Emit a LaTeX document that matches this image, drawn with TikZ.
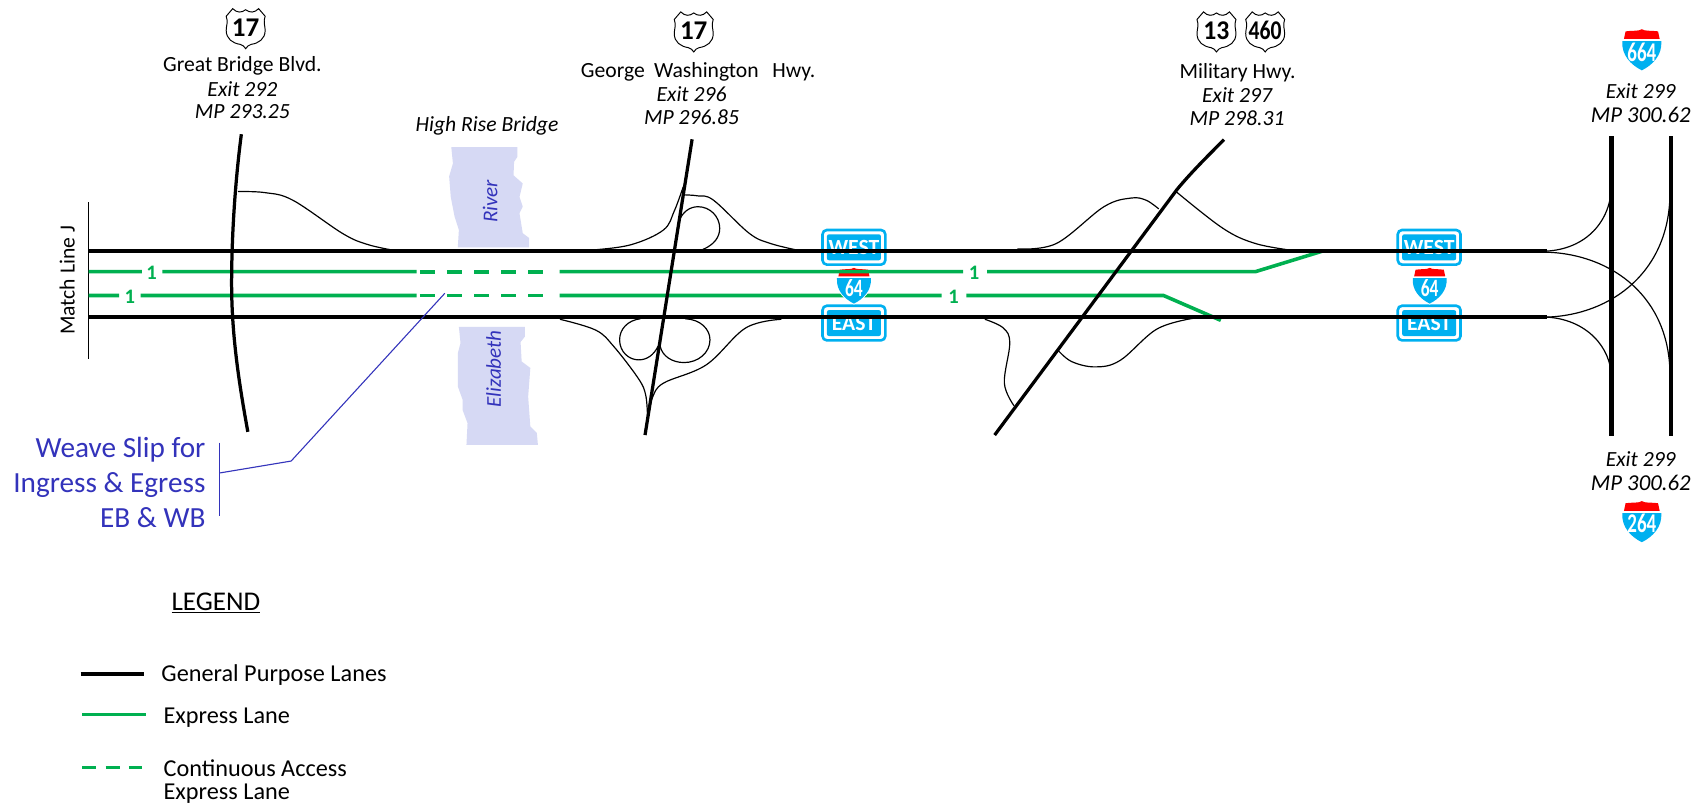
\documentclass[tikz,border=0pt]{standalone}
\usepackage{fontspec}
\setmainfont{Carlito}
\definecolor{expr}{HTML}{00B050}
\definecolor{signblue}{HTML}{00B0F0}
\definecolor{river}{HTML}{D6D9F4}
\definecolor{noteblue}{HTML}{3333BB}
\tikzset{
  x=1pt,y=-1pt,
  gplane/.style={line width=4pt,black},
  xroad/.style={line width=3pt,black},
  ramp/.style={line width=1.1pt,black},
  xlane/.style={line width=3.3pt,expr},
  xdash/.style={line width=3.5pt,expr,dash pattern=on 14pt off 11pt},
  lab/.style={font=\fontsize{20}{22}\selectfont,inner sep=0pt,align=center,text=black},
  ilab/.style={font=\fontsize{20}{22}\selectfont\itshape,inner sep=0pt,align=center,text=black},
  onelab/.style={font=\fontsize{19}{20}\selectfont\bfseries,text=expr,inner sep=0pt},
  rivertxt/.style={font=\fontsize{19.5}{22}\selectfont\itshape,text=noteblue,rotate=90,inner sep=0pt},
  leg/.style={font=\fontsize{22.4}{24}\selectfont,inner sep=0pt,anchor=west,align=left,text=black},
  note/.style={line width=1pt,noteblue},
  dirsign/.style={draw=signblue,fill=white,line width=2.4pt,rounded corners=4pt},
  dirin/.style={fill=signblue,rounded corners=2pt},
  dirtxt/.style={font=\fontsize{20}{20}\selectfont\bfseries,text=white,inner sep=0pt},
}
% US route shield: centre, node name, text, x-compression
\newcommand{\usshield}[4]{%
  \begin{scope}[shift={(#1)}]
    \draw[fill=white,line width=.9pt] (-12,-18) .. controls (-8,-14) and (-4,-14) .. (0,-17)
      .. controls (4,-14) and (8,-14) .. (12,-18) -- (18,-11)
      .. controls (16,-6) and (18,-2) .. (18,2) .. controls (18,10) and (12,14) .. (5,15)
      .. controls (3,15.5) and (1,17) .. (0,19) .. controls (-1,17) and (-3,15.5) .. (-5,15)
      .. controls (-12,14) and (-18,10) .. (-18,2) .. controls (-18,-2) and (-16,-6) .. (-18,-11) -- cycle;
    \node[inner sep=0pt,font=\fontsize{25}{26}\selectfont\bfseries,xscale=#4] (#2) at (0,-0.5) {#3};
  \end{scope}}
% Interstate shield: centre, node name, text, scale, font size
\newcommand{\ishield}[5]{%
  \begin{scope}[shift={(#1)},scale=#4]
    \fill[white] (-19,-8) -- (19,-8) .. controls (20,6) and (10,15) .. (0,20) .. controls (-10,15) and (-20,6) .. (-19,-8) -- cycle;
    \fill[red] (-16.5,-10) -- (-15,-17) .. controls (-8,-18) and (-3,-17) .. (0,-19)
       .. controls (3,-17) and (8,-18) .. (15,-17) -- (16.5,-10) -- cycle;
    \fill[signblue] (-18,-8) -- (18,-8) .. controls (19,5) and (10,14) .. (0,19)
       .. controls (-10,14) and (-19,5) .. (-18,-8) -- cycle;
    \node[inner sep=0pt,font=\fontsize{#5}{22}\selectfont\bfseries,text=white,xscale=.7] (#2) at (0,2) {#3};
  \end{scope}}
% direction sign: x centre, y centre, node name, text
\newcommand{\dirsignat}[4]{%
  \draw[dirsign] (#1-29,#2-16) rectangle (#1+29,#2+16);
  \fill[dirin] (#1-25,#2-12) rectangle (#1+25,#2+12);
  \node[dirtxt] (#3) at (#1,#2) {#4};}
\begin{document}
\begin{tikzpicture}
\useasboundingbox (0,0) rectangle (1568,747.5);
\fill[white] (0,0) rectangle (1568,747.5);

% river
\fill[river] (417,136) -- (418.5,151) -- (415,163) -- (416.5,182) -- (420,200) -- (424,212.5) -- (423,228.5)
  -- (489,228.5) -- (489,220) -- (483,215.5) -- (480,197) -- (483,191) -- (480,182) -- (483,169.5)
  -- (474.5,162) -- (475,149.5) -- (478,145) -- (478,136) -- cycle;
\fill[river] (424,302) -- (425.5,317) -- (423,326.5) -- (423,357) -- (427.5,369.5) -- (427.5,379) -- (432,391) -- (431,411)
  -- (497,411) -- (496,400) -- (490,394) -- (488,366.5) -- (490,340) -- (482,334) -- (481,316) -- (485,311) -- (485,302) -- cycle;
\node[rivertxt] (rivername) at (453,186) {River};
\node[rivertxt] (elizname) at (456,341) {Elizabeth};

% direction signs
\dirsignat{789}{228.5}{w1}{WEST}
\dirsignat{789}{298.5}{e1}{EAST}
\dirsignat{1320.5}{228.5}{w2}{WEST}
\dirsignat{1320.5}{298.5}{e2}{EAST}

% match line
\draw[line width=1.1pt] (82,187) -- (82,332);
\node[lab,rotate=90] (match) at (62,259) {Match Line J};

% express lanes
\draw[xlane] (82,273) -- (110,273) (130,273) -- (385,273) (517,273) -- (870,273) (893,273) -- (1075,273) -- (1128,296);
\draw[xdash] (388,273) -- (505,273);
\node[onelab] (n3) at (120,274) {1};
\node[onelab] (n4) at (881,274) {1};
\ishield{789,264}{i64a}{64}{.87}{23}
\ishield{1321,264}{i64b}{64}{.87}{23}
\draw[xlane] (82,251) -- (131,251) (150,251) -- (385,251) (517,251) -- (890,251) (912,251) -- (1160,251) -- (1222,232);
\draw[xdash] (388,251) -- (505,251);
\node[onelab] (n1) at (140,252) {1};
\node[onelab] (n2) at (900,252) {1};

% ramps
\draw[ramp] plot[smooth,tension=.6] coordinates {(220,177) (245,178) (270.6,185) (317,216) (340,226) (365,231.5)};
\draw[ramp] plot[smooth,tension=.6] coordinates {(527,232) (548,231) (583.4,226) (613,212.5) (623,195) (631.3,172.5)};
\draw[ramp] plot[smooth,tension=.6] coordinates {(631,180) (645,181) (659.3,185) (692.3,215.6) (712,225) (738.5,231.5)};
\draw[ramp] (649.4,230.5) .. controls (660,226) and (665,219) .. (665,211) .. controls (665,200) and (656,191) .. (645,191) .. controls (637,191) and (631,196) .. (628,203);
\draw[ramp] plot[smooth,tension=.6] coordinates {(517.4,295) (550.4,305) (567,320) (590,350) (596.6,365) (598.3,385)};
\draw[ramp] (591.7,294.5) .. controls (580,296) and (572.5,304) .. (572.5,314) .. controls (572.5,325) and (581,332.5) .. (590,332.5) .. controls (598,332.5) and (604,328) .. (608,320);
\draw[ramp] (633,294.5) .. controls (647,295) and (656,304) .. (656,314) .. controls (656,326) and (645,335) .. (632,335) .. controls (621,335) and (612,329) .. (610,320);
\draw[ramp] plot[smooth,tension=.6] coordinates {(722,295) (689,303) (652.7,337) (613,354) (603,367) (600,379)};
\draw[ramp] plot[smooth,tension=.6] coordinates {(910,295) (927,303) (933,317) (928,354) (937,375)};
\draw[ramp] plot[smooth,tension=.6] coordinates {(977,323) (990,334) (1012,339) (1035,333) (1069,304) (1103,294)};
\draw[ramp] plot[smooth,tension=.6] coordinates {(940,230) (976,225) (1020,191) (1045,183) (1059,185) (1070.6,193)};
\draw[ramp] plot[smooth,tension=.6] coordinates {(1086.6,177) (1130,211) (1160,225) (1195,231.5)};
\draw[ramp] (1429,232) .. controls (1465,230) and (1489,205) .. (1489,170);
\draw[ramp] (1429,233) .. controls (1490,235) and (1543,275) .. (1543,346.5);
\draw[ramp] (1429,293) .. controls (1490,291) and (1543,250) .. (1543,178);
\draw[ramp] (1429,293) .. controls (1465,295) and (1489,320) .. (1489,350);

% crossing roads
\draw[xroad] (223,124) .. controls (217,170) and (214,220) .. (214,262) .. controls (214,310) and (221,355) .. (229,399);
\draw[xroad] (639.5,128.7) -- (596,402);
\draw[xroad] (919,402) -- (1087.6,175) .. controls (1100,160) and (1115,145) .. (1131,129);
\draw[gplane] (1489,126) -- (1489,403);
\draw[gplane] (1544,126) -- (1544,403);

% general purpose lanes
\draw[gplane] (82,232) -- (1429,232);
\draw[gplane] (82,293) -- (1429,293);

% shields
\usshield{227,26}{s17a}{17}{1}
\usshield{641,29}{s17b}{17}{1}
\usshield{1124,29}{s13}{13}{.95}
\usshield{1169,29}{s460}{460}{.8}
\ishield{1517,46}{i664}{664}{1}{25}
\ishield{1517,482}{i264}{264}{1}{25}

% labels
\node[lab] (gb) at (224,61) {Great Bridge Blvd.};
\node[ilab] (gb2) at (224,82.5) {Exit 292};
\node[ilab] (gb3) at (224,103.5) {MP 293.25};
\node[lab] (gw) at (645,66) {George\hspace{4pt} Washington\hspace{8pt} Hwy.};
\node[ilab] (gw2) at (639,87) {Exit 296};
\node[ilab] (gw3) at (639,108.5) {MP 296.85};
\node[lab] (mh) at (1143.5,67) {Military Hwy.};
\node[ilab] (mh2) at (1143,88) {Exit 297};
\node[ilab] (mh3) at (1143,109.5) {MP 298.31};
\node[ilab] (x1) at (1516,84.5) {Exit 299};
\node[ilab,font=\fontsize{21}{22}\selectfont\itshape] (x2) at (1516,106.5) {MP 300.62};
\node[ilab] (x3) at (1516,424.5) {Exit 299};
\node[ilab,font=\fontsize{21}{22}\selectfont\itshape] (x4) at (1516,446.5) {MP 300.62};
\node[ilab] (hr) at (450,116) {High Rise Bridge};

% weave note
\node[font=\fontsize{27}{32.5}\selectfont,text=noteblue,align=right,inner sep=0pt,anchor=east] (weave) at (190,445.5) {Weave Slip for\\Ingress \& Egress\\EB \& WB};
\coordinate (wtop) at (203,409);
\coordinate (wbot) at (203,477);
\coordinate (wmid) at (203,437);
\coordinate (wknee) at (269,426);
\coordinate (wend) at (411,271);
\draw[note] (wtop) -- (wbot);
\draw[note] (wmid) -- (wknee) -- (wend);

% legend
\node[lab,font=\fontsize{25}{26}\selectfont] (legendt) at (199.5,557) {\underline{LEGEND}};
\coordinate (l1a) at (74.5,623); \coordinate (l1b) at (133,623);
\coordinate (l2a) at (76,660); \coordinate (l2b) at (134.6,660);
\coordinate (l3a) at (76,709); \coordinate (l3b) at (131,709);
\draw[gplane] (l1a) -- (l1b);
\draw[xlane] (l2a) -- (l2b);
\draw[line width=3.3pt,expr,dash pattern=on 13pt off 8.5pt] (l3a) -- (l3b);
\node[leg] (lg1) at (149,624) {General Purpose Lanes};
\node[leg] (lg2) at (151,663.5) {Express Lane};
\node[leg] (lg3) at (151,710) {Continuous Access};
\node[leg] (lg4) at (151,733.5) {Express Lane};
\end{tikzpicture}
\end{document}
